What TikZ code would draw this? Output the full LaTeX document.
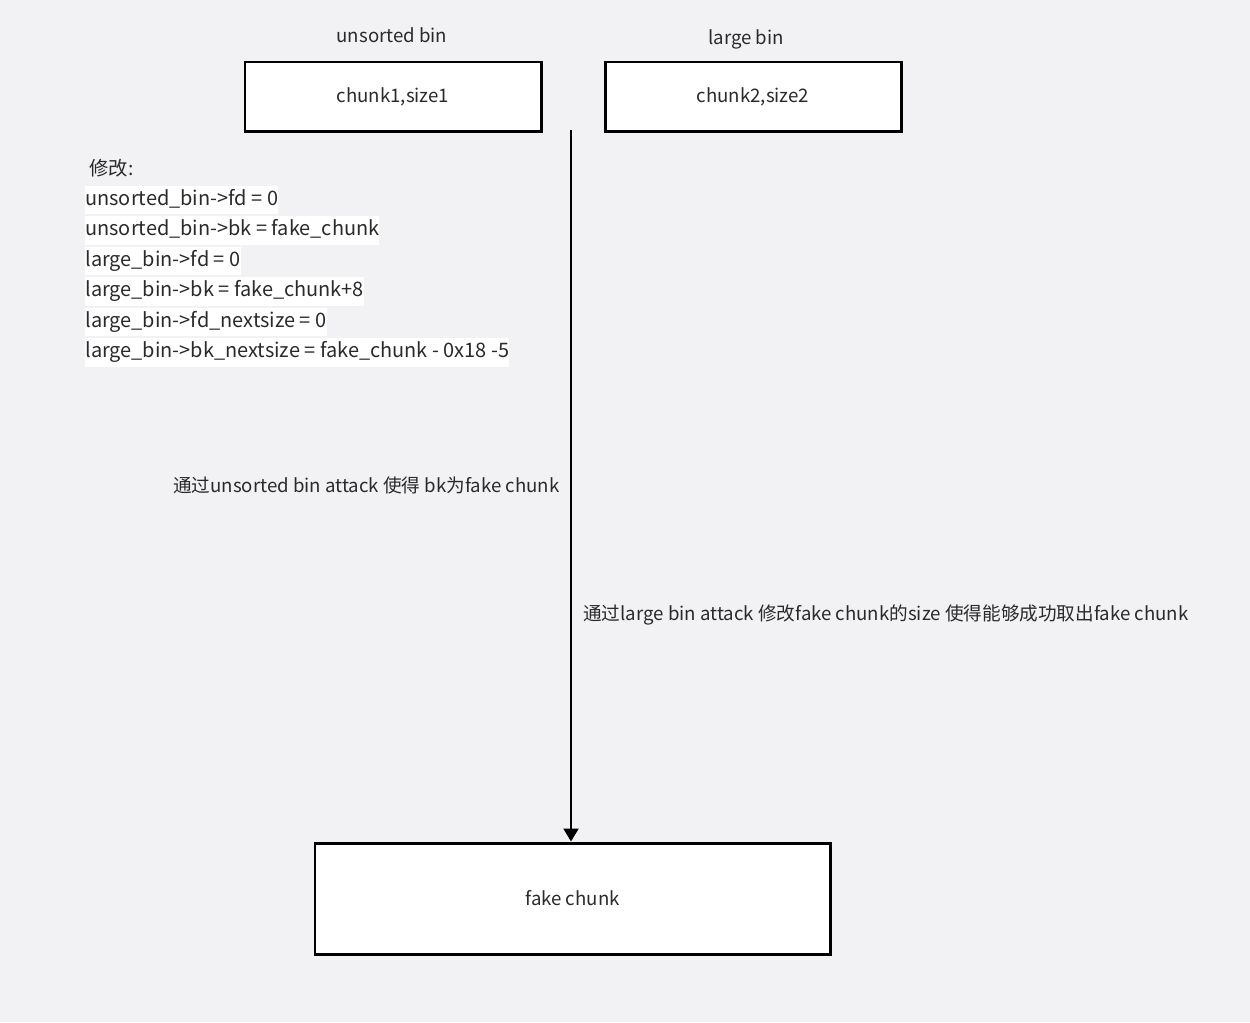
\documentclass[tikz,border=0pt]{standalone}
\usepackage{fontspec}
\setmainfont{Noto Sans CJK SC}
\usetikzlibrary{arrows.meta}
\definecolor{bg}{HTML}{F2F2F4}
\definecolor{txt}{HTML}{2A2A2A}
\begin{document}
\begin{tikzpicture}[x=0.02cm,y=-0.02cm,
  chunkbox/.style={draw=black, line width=1.7pt, fill=white, inner sep=0pt, text=txt, font=\fontsize{10.6pt}{12pt}\selectfont},
  lbl/.style={text=txt, inner sep=0pt, font=\fontsize{10.6pt}{12pt}\selectfont},
  hl/.style={fill=white, text=txt, anchor=west, inner xsep=0pt, inner ysep=0pt, text height=0.39cm, text depth=0.18cm, font=\fontsize{11.35pt}{13pt}\selectfont},
  conn/.style={draw=black, line width=1.2pt, -{Triangle[length=0.26cm,width=0.3cm]}}]
\fill[bg] (0,0) rectangle (1250,1022);
\useasboundingbox (0,0) rectangle (1250,1022);
% boxes
\node[chunkbox, minimum width=296*0.02cm, minimum height=69*0.02cm] (b1) at (393,96.5) {chunk1,size1};
\node[chunkbox, minimum width=296*0.02cm, minimum height=69*0.02cm] (b2) at (753,96.5) {chunk2,size2};
\node[chunkbox, minimum width=515*0.02cm, minimum height=111*0.02cm] (fake) at (572.5,898.5) {fake chunk};
% titles
\node[lbl] (t1) at (392,35) {unsorted bin};
\node[lbl] (t2) at (746,39) {large bin};
% modification list
\node[lbl, anchor=west, font=\fontsize{11pt}{13pt}\selectfont] (m0) at (89,168) {修改:};
\node[hl] (m1) at (85,200) {unsorted\_bin->fd = 0};
\node[hl] (m2) at (85,230.5) {unsorted\_bin->bk = fake\_chunk};
\node[hl] (m3) at (85,261) {large\_bin->fd = 0};
\node[hl] (m4) at (85,291.5) {large\_bin->bk = fake\_chunk+8};
\node[hl] (m5) at (85,322) {large\_bin->fd\_nextsize = 0};
\node[hl] (m6) at (85,352.5) {large\_bin->bk\_nextsize = fake\_chunk - 0x18 -5};
% annotations
\node[lbl, anchor=west] (a1) at (173,485) {通过unsorted bin attack 使得 bk为fake chunk};
\node[lbl, anchor=west] (a2) at (583,615) {通过large bin attack 修改fake chunk的size 使得能够成功取出fake chunk};
% connector
\coordinate (start) at (571,130);
\draw[conn] (start) -- (start |- fake.north);
\end{tikzpicture}
\end{document}
